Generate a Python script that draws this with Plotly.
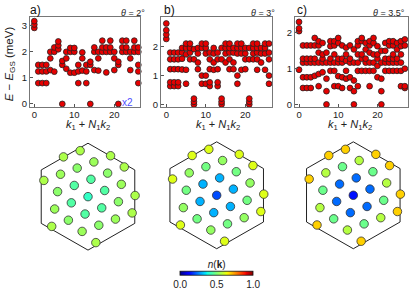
import math
import plotly.graph_objects as go

W, H = 415, 293

# ---------------- data ----------------
panel_labels = ["a)", "b)", "c)"]
theta_labels = ["2°", "3°", "3.5°"]
x_ticks = [0, 10, 20]
y_ticks_a = [0, 1, 2, 3]
y_ticks_b = [0, 1, 2]
y_ticks_c = [0, 1, 2]

# energies (meV) per momentum index k = k1 + N1 k2
E_a = [
    [2.92, 3.05, 3.18],
    [0.80, 1.25, 1.50],
    [0.80, 1.25, 1.50],
    [0.80, 1.25, 1.50],
    [1.30, 1.75, 2.00],
    [1.24, 2.00, 2.17],
    [2.10, 2.25, 2.40],
    [0.00, 1.50, 1.65],
    [1.35, 1.75, 2.00],
    [1.20, 2.00, 2.15],
    [1.20, 2.00, 2.15],
    [0.80, 1.25, 1.50],
    [1.28, 1.75, 1.98],
    [0.80, 1.25, 1.50],
    [0.00, 1.50, 1.62],
    [1.30, 2.00, 2.17],
    [1.28, 1.75, 2.00],
    [2.00, 2.17, 2.43],
    [1.21, 2.00, 2.17],
    [2.00, 2.17, 2.43],
    [1.30, 1.75, 2.00],
    [0.00, 1.50, 1.62],
    [2.00, 2.17, 2.43],
    [2.00, 2.17, 2.43],
    [1.30, 1.75, 2.00],
    [2.00, 2.17, 2.43],
    [0.80, 1.25, 1.50, 2.00, 2.17],
]

E_b = [
    [2.25, 2.40, 2.55, 2.78],
    [0.63, 0.76, 1.21, 1.55, 1.78],
    [0.63, 0.76, 1.21, 1.55, 1.78],
    [0.63, 0.76, 1.21, 1.55, 1.78],
    [1.20, 1.57, 1.78, 1.94],
    [0.71, 1.19, 1.72, 1.94, 2.09],
    [1.55, 1.78, 1.94, 2.09],
    [0.00, 0.09, 0.20, 1.55, 1.90],
    [1.21, 1.44, 1.75, 1.94],
    [0.71, 0.99, 1.94, 2.09],
    [0.71, 0.99, 1.75, 1.94, 2.09],
    [0.63, 0.76, 1.21, 1.55, 1.78],
    [1.19, 1.44, 1.75, 1.94],
    [0.63, 0.76, 1.21, 1.55, 1.78],
    [0.00, 0.09, 0.20, 1.55, 1.94],
    [1.44, 1.75, 1.94, 2.09],
    [1.21, 1.55, 1.78, 1.94, 2.09],
    [1.21, 1.44, 1.78, 1.94],
    [0.71, 0.99, 1.75, 1.94, 2.09],
    [1.19, 1.75, 1.94, 2.09],
    [1.21, 1.55, 1.75, 1.94],
    [0.00, 0.09, 0.20, 1.55, 1.94],
    [1.55, 1.75, 1.94, 2.09],
    [1.19, 1.55, 1.78, 1.94, 2.09],
    [1.44, 1.75, 1.94],
    [1.19, 1.75, 1.94, 2.09],
    [0.71, 0.99, 1.55, 1.78, 2.09],
]

E_c = [
    [0.97, 2.05, 2.13, 2.31],
    [0.46, 0.76, 1.17, 1.28, 1.65],
    [0.46, 0.76, 1.17, 1.28, 1.65],
    [0.46, 0.76, 1.17, 1.28, 1.65],
    [0.80, 1.17, 1.28, 1.65, 1.86],
    [0.51, 0.85, 1.17, 1.45, 1.65, 1.77],
    [0.90, 1.17, 1.28, 1.40, 1.72],
    [0.00, 0.37, 0.72, 1.17, 1.45],
    [0.94, 1.17, 1.28, 1.63, 1.77],
    [0.51, 0.94, 1.17, 1.40, 1.65, 1.77],
    [0.51, 0.79, 1.17, 1.28, 1.72, 1.86],
    [0.46, 0.76, 1.17, 1.28, 1.65],
    [0.72, 0.94, 1.22, 1.40, 1.59],
    [0.46, 0.76, 1.17, 1.28, 1.65],
    [0.00, 0.37, 0.67, 1.17, 1.54],
    [0.51, 0.94, 1.17, 1.40, 1.65, 1.77],
    [0.94, 1.28, 1.40, 1.77, 1.86],
    [0.94, 1.17, 1.28, 1.54, 1.72],
    [0.51, 0.94, 1.17, 1.45, 1.65, 1.77],
    [0.94, 1.17, 1.40, 1.72, 1.86],
    [0.76, 1.08, 1.28, 1.40, 1.63],
    [0.00, 0.37, 0.72, 1.17, 1.50],
    [0.94, 1.17, 1.28, 1.50, 1.72],
    [0.94, 1.17, 1.28, 1.65, 1.77],
    [0.94, 1.17, 1.28, 1.40, 1.65, 1.77],
    [0.94, 1.17, 1.28, 1.54, 1.72],
    [0.51, 0.94, 1.17, 1.40, 1.63, 1.77],
    [0.46, 0.51, 1.00, 1.65, 1.82],
]

# momentum lattice indices (m, n) of the points drawn in the Brillouin zone
lat_m = [-2, -1, 1, 2, 0, -1, 1, -3, -2, 0, -1, 1, 2, -2, 0, 3, -1, 1, 2, -2, 0, 3, -1, 2, -2, 1, 0, 1]
lat_n = [3, 3, 2, 1, 2, 2, 1, 2, 2, 1, 1, 0, 0, 1, 0, -1, 0, -1, -1, 0, -1, -2, -1, -2, -1, -2, -2, -3]

# occupation n(k) for each lattice point
n_a = [0.56, 0.56, 0.56, 0.56, 0.54, 0.52, 0.52, 0.56, 0.54, 0.45, 0.45, 0.45, 0.54, 0.52,
       0.41, 0.56, 0.45, 0.45, 0.52, 0.54, 0.45, 0.56, 0.52, 0.54, 0.56, 0.52, 0.54, 0.56]
n_b = [0.62, 0.62, 0.62, 0.62, 0.53, 0.49, 0.49, 0.62, 0.53, 0.30, 0.30, 0.30, 0.53, 0.49,
       0.20, 0.62, 0.30, 0.30, 0.49, 0.53, 0.30, 0.62, 0.49, 0.53, 0.62, 0.49, 0.53, 0.62]
n_c = [0.69, 0.69, 0.69, 0.69, 0.57, 0.48, 0.48, 0.69, 0.57, 0.23, 0.23, 0.23, 0.57, 0.48,
       0.14, 0.69, 0.23, 0.23, 0.48, 0.57, 0.23, 0.69, 0.48, 0.57, 0.69, 0.48, 0.57, 0.69]

cbar_ticks = [0.0, 0.5, 1.0]

# ---------------- styling / layout ----------------
def px(x):
    return x / W


def py(y):
    return 1 - y / H


jet = [
    [0.0, "rgb(0,0,128)"], [0.11, "rgb(0,0,255)"], [0.125, "rgb(0,0,255)"],
    [0.34, "rgb(0,219,255)"], [0.35, "rgb(0,229,247)"], [0.375, "rgb(21,255,226)"],
    [0.64, "rgb(238,255,8)"], [0.65, "rgb(247,246,0)"], [0.66, "rgb(255,236,0)"],
    [0.89, "rgb(255,19,0)"], [0.91, "rgb(232,0,0)"], [1.0, "rgb(128,0,0)"],
]

FONT = "Liberation Sans, Arial, sans-serif"
fig = go.Figure()

TOP, BOT = 17.5, 108
panels = [
    dict(x0=30, x1=139.5, xr=[-1.075, 26.3], yr=[-0.114, 3.327], E=E_a, yt=y_ticks_a),
    dict(x0=161, x1=272, xr=[-1.34, 26.76], yr=[-0.085, 2.993], E=E_b, yt=y_ticks_b),
    dict(x0=295, x1=408, xr=[-1.03, 27.8], yr=[-0.069, 2.438], E=E_c, yt=y_ticks_c),
]

layout_axes = {}
for i, p in enumerate(panels, start=1):
    xs, ys = [], []
    for k, levels in enumerate(p["E"]):
        for e in levels:
            xs.append(k)
            ys.append(e)
    fig.add_trace(go.Scatter(
        x=xs, y=ys, mode="markers", xaxis=f"x{i}", yaxis=f"y{i}",
        marker=dict(size=5.8, color="#e60000", line=dict(width=0.8, color="#222")),
        cliponaxis=False, showlegend=False, hoverinfo="skip"))
    common = dict(showline=True, mirror=True, linecolor="#777", linewidth=1,
                  showgrid=False, zeroline=False, ticks="inside", ticklen=3,
                  tickcolor="#555", tickfont=dict(size=9.5, color="#222", family=FONT))
    layout_axes[f"xaxis{i}"] = dict(domain=[px(p["x0"]), px(p["x1"])], range=p["xr"],
                                   anchor=f"y{i}", tickvals=x_ticks,
                                   ticklabelstandoff=-1, **common)
    layout_axes[f"yaxis{i}"] = dict(domain=[py(BOT), py(TOP)], range=p["yr"],
                                   anchor=f"x{i}", tickvals=p["yt"], **common)

# Brillouin-zone panels (pixel units)
hexes = [(88, 198.7, n_a), (216.7, 197.3, n_b), (353.3, 197.3, n_c)]
R = 54
HW = 60
d = 17.8
rot = math.radians(20.5)
a1 = (d * math.cos(rot), d * math.sin(rot))
a2 = (d * math.cos(rot + math.pi / 3), d * math.sin(rot + math.pi / 3))
hx = [R * math.cos(math.radians(90 + 60 * j)) for j in range(7)]
hy = [R * math.sin(math.radians(90 + 60 * j)) for j in range(7)]
for j, (cx, cy, nvals) in enumerate(hexes, start=4):
    fig.add_trace(go.Scatter(x=hx, y=hy, mode="lines", xaxis=f"x{j}", yaxis=f"y{j}",
                             line=dict(color="#222", width=1), showlegend=False,
                             hoverinfo="skip"))
    kx = [m * a1[0] + n * a2[0] for m, n in zip(lat_m, lat_n)]
    ky = [m * a1[1] + n * a2[1] for m, n in zip(lat_m, lat_n)]
    fig.add_trace(go.Scatter(
        x=kx, y=ky, mode="markers", xaxis=f"x{j}", yaxis=f"y{j}",
        marker=dict(size=8.5, color=nvals, coloraxis="coloraxis",
                    line=dict(width=0.8, color="#333")),
        cliponaxis=False, showlegend=False, hoverinfo="skip"))
    hid = dict(visible=False, showgrid=False, zeroline=False)
    layout_axes[f"xaxis{j}"] = dict(domain=[px(cx - HW), px(cx + HW)], range=[-HW, HW],
                                   anchor=f"y{j}", **hid)
    layout_axes[f"yaxis{j}"] = dict(domain=[py(cy + HW), py(cy - HW)], range=[-HW, HW],
                                   anchor=f"x{j}", **hid)

ann = []
label_x = [28, 162, 295]
theta_right = [147, 277, 407]
xtitle_c = [88, 218, 350]
P = dict(xref="paper", yref="paper", showarrow=False)
for i in range(3):
    ann.append(dict(text=panel_labels[i], x=px(label_x[i]), y=py(10), xanchor="left",
                    yanchor="middle", font=dict(size=12, color="#111", family=FONT), **P))
    ann.append(dict(text="<i>θ</i> = " + theta_labels[i], x=px(theta_right[i]), y=py(13),
                    xanchor="right", yanchor="middle",
                    font=dict(size=9, color="#222", family=FONT), **P))
    ann.append(dict(text="<i>k</i><sub>1</sub> + <i>N</i><sub>1</sub><i>k</i><sub>2</sub>",
                    x=px(xtitle_c[i]), y=py(126), xanchor="center", yanchor="middle",
                    font=dict(size=11, color="#222", family=FONT), **P))
ann.append(dict(text="<i>E</i> − <i>E</i><sub>GS</sub> (meV)", x=px(10), y=py(65),
                xanchor="center", yanchor="middle", textangle=-90,
                font=dict(size=11.5, color="#222", family=FONT), **P))
ann.append(dict(text="x2", x=px(127.5), y=py(103.5), xanchor="center", yanchor="middle",
                font=dict(size=10, color="#5050ff", family=FONT), **P))

fig.update_layout(
    width=W, height=H, margin=dict(l=0, r=0, t=0, b=0),
    paper_bgcolor="white", plot_bgcolor="white",
    font=dict(family=FONT),
    annotations=ann,
    hovermode=False,
    coloraxis=dict(
        colorscale=jet, cmin=0, cmax=1,
        colorbar=dict(
            orientation="h", x=px(216.7), xanchor="center", y=py(289.5), yanchor="bottom",
            len=73 / W, lenmode="fraction", thickness=4, thicknessmode="pixels",
            outlinecolor="#111", outlinewidth=0.8, xpad=0, ypad=0,
            tickvals=cbar_ticks, ticktext=["0.0", "0.5", "1.0"], ticks="",
            tickfont=dict(size=10, color="#222", family=FONT),
            title=dict(text="<i>n</i>(<b>k</b>)", side="top",
                       font=dict(size=10, color="#222", family=FONT)),
        ),
    ),
    **layout_axes,
)

fig.write_html("out.html", config={"displayModeBar": False},
               post_script="document.body.style.margin='0';")
